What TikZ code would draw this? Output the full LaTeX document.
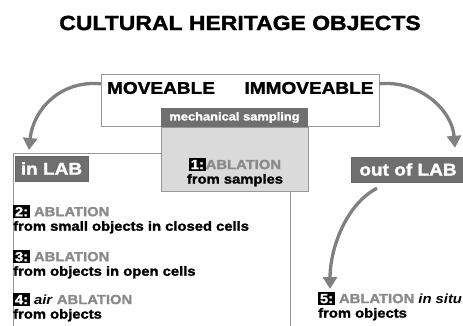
\documentclass[tikz,border=0pt]{standalone}
\usepackage{fontspec}
\setmainfont{Liberation Sans}[FakeStretch=1.12, BoldFeatures={FakeBold=1.6}]
\usetikzlibrary{arrows.meta}

\definecolor{boxgray}{HTML}{6F6F6F}
\definecolor{arrowgray}{HTML}{808080}
\definecolor{panelgray}{HTML}{DADADA}
\definecolor{ablgray}{HTML}{8A8A8A}
\definecolor{linegray}{HTML}{989898}

\newcommand{\nbox}[1]{{\setlength{\fboxsep}{1.8pt}\colorbox{black}{\textcolor{white}{#1}}}}
\newcommand{\abl}[1]{\textcolor{ablgray}{#1}}

\begin{document}
\begin{tikzpicture}[x=1pt,y=-1pt,
	tag/.style={fill=boxgray,draw=black!60,text=white,inner sep=0pt,minimum height=25pt,
		font=\bfseries\fontsize{17}{17}\selectfont},
	item/.style={anchor=north west,align=left,inner sep=0pt,
		font=\bfseries\fontsize{13.2}{14.5}\selectfont},
	bigarrow/.style={draw=arrowgray,line width=3.3pt,-{Triangle[width=14pt,length=12pt]}}]
			\useasboundingbox (0,0) rectangle (463,326);

			\node[font=\bfseries\fontsize{20.5}{20.5}\selectfont] (title) at (240,23) {CULTURAL HERITAGE OBJECTS};

			% object classes
			\node[draw=linegray,minimum width=278pt,minimum height=52pt,inner sep=0pt] (classes) at (240,100) {};
			\node[font=\bfseries\fontsize{17}{17}\selectfont] (moveable) at (161,88) {MOVEABLE};
			\node[font=\bfseries\fontsize{17}{17}\selectfont] (immoveable) at (309,88) {IMMOVEABLE};

			% lab frame
			\node[draw=linegray,minimum width=277pt,minimum height=200pt,inner sep=0pt,anchor=north west] (labframe) at (13,153) {};

			% mechanical sampling
			\node[fill=panelgray,draw=linegray,minimum width=147pt,minimum height=64pt,inner sep=0pt] (sampbox) at (234.5,159) {};
			\node[fill=boxgray,text=white,minimum width=147pt,minimum height=19pt,inner sep=0pt,
				font=\bfseries\fontsize{11.5}{11.5}\selectfont] (sampling) at (234.5,117.5) {mechanical sampling};

			% place labels
			\node[tag,minimum width=73pt] (inlab) at (51.5,168.5) {in LAB};
			\node[tag,minimum width=113pt] (outlab) at (408,169.5) {out of LAB};

			% ablation items
			\node[item,anchor=north,align=center] (item1) at (235,158) {\nbox{1:}\abl{ABLATION}\\from samples};
			\node[item] (item2) at (13,205) {\nbox{2:} \abl{ABLATION}\\from small objects in closed cells};
			\node[item] (item3) at (13,250) {\nbox{3:} \abl{ABLATION}\\from objects in open cells};
			\node[item] (item4) at (13,293) {\nbox{4:} \textit{air} \abl{ABLATION}\\from objects};
			\node[item] (item5) at (318,292) {\nbox{5:} \abl{ABLATION} \textit{in situ}\\from objects};

			% arrows
			\draw[bigarrow] ([yshift=-10pt]classes.north west) .. controls (60,80) and (33,110) .. ([xshift=16pt,yshift=3pt]labframe.north west);
			\draw[bigarrow] ([yshift=-10pt]classes.north east) .. controls (420,80) and (452,110) .. ([xshift=47pt,yshift=9pt]outlab.north);
			\draw[bigarrow] ([xshift=-31pt,yshift=-6pt]outlab.south) .. controls (345,205) and (330,250) .. ([xshift=12pt,yshift=3pt]item5.north west);
		\end{tikzpicture}
\end{document}
